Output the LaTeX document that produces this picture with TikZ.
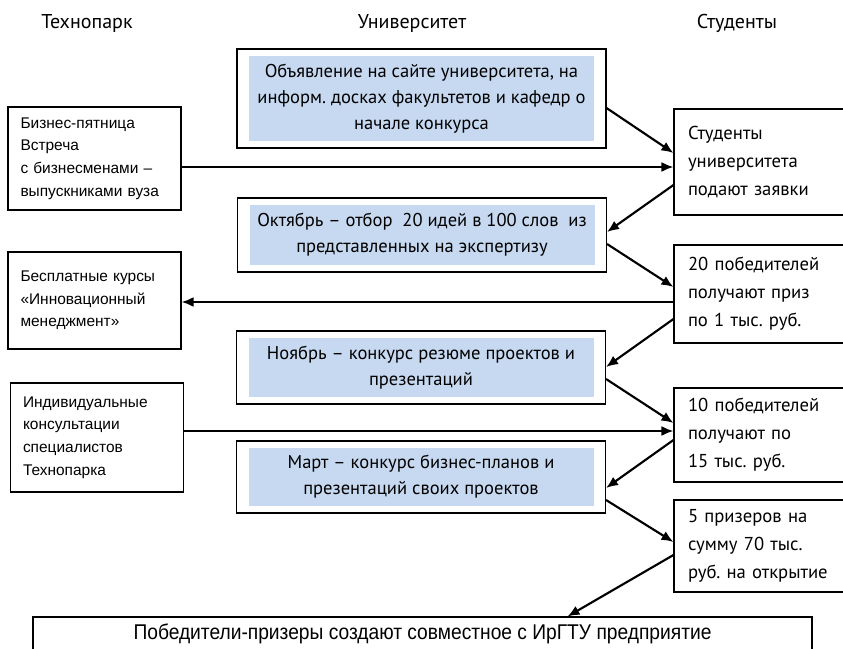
\documentclass[tikz,border=0pt]{standalone}
\usepackage{fontspec}
\setmainfont{PT Sans}
\newfontfamily\arialfont{Liberation Sans}
\newfontfamily\arialnarrow[FakeStretch=0.9]{Liberation Sans}
\usepackage{tikz}
\usetikzlibrary{arrows.meta}
\usetikzlibrary{calc}
\frenchspacing
\definecolor{uniblue}{HTML}{C6D9F0}
\newcommand{\headfont}{\fontsize{15}{18}\selectfont}
\newcommand{\unifont}{\fontsize{13.9}{19.5}\selectfont}
\newcommand{\stfont}{\fontsize{14}{21}\selectfont}
\newcommand{\tpfont}{\arialfont\fontsize{11.6}{17}\selectfont}
\tikzstyle{head} = [font=\headfont, anchor=base]
\tikzstyle{uni} = [draw, line width=0.8pt,
	minimum width = 276.75pt,
	align=center, font=\unifont,
	path picture={\fill[uniblue] ([shift={(9pt,-5.5pt)}]path picture bounding box.north west) rectangle ([shift={(-9pt,5.5pt)}]path picture bounding box.south east);}]
\tikzstyle{tpark} = [draw, line width=0.8pt,
	minimum width = 129.75pt,
	text width = 111pt, inner xsep=9pt,
	align=left, font=\tpfont]
\tikzstyle{stud} = [draw, line width=0.8pt,
	minimum width = 133.5pt,
	text width = 112.5pt, inner xsep=10.5pt,
	align=left, font=\stfont]
\tikzstyle{arrow} =[-{Latex[length=9pt, width=7.5pt]}, line width=1.6pt]

\begin{document}
\begin{tikzpicture}[x=0.75pt, y=-0.75pt]
	\useasboundingbox (0,0) rectangle (843,649);
	\clip (0,0) rectangle (843,649);
	
	\node (tp) [head] at (87,28.5) {Технопарк};
	\node (un) [head] at (412,28.5) {Университет};
	\node (st) [head] at (737,28.5) {Студенты};
	
	%университет
	\node (u1) [uni, minimum height=74.25pt] at (421.5,98.5) {Объявление на сайте университета, на\\информ. досках факультетов и кафедр о\\начале конкурса};
	\node (u2) [uni, minimum height=55.5pt] at (422,235) {Октябрь – отбор\ \ 20 идей в 100 слов\ \ из\\представленных на экспертизу};
	\node (u3) [uni, minimum height=54.75pt] at (421,367.5) {Ноябрь – конкурс резюме проектов и\\презентаций};
	\node (u4) [uni, minimum height=54pt] at (421,477) {Март – конкурс бизнес-планов и\\презентаций своих проектов};
	
	%технопарк
	\node (t1) [tpark, minimum height=77.25pt] at (94.5,158.5) {Бизнес-пятница\\Встреча\\с бизнесменами –\\выпускниками вуза};
	\node (t2) [tpark, minimum height=72.75pt] at (94.5,300.5) {Бесплатные курсы\\«Инновационный\\менеджмент»};
	\node (t3) [tpark, minimum height=81.75pt] at (97,437.5) {Индивидуальные\\консультации\\специалистов\\Технопарка};
	
	%студенты
	\node (s1) [stud, minimum height=79.5pt] at (763,162) {Студенты\\университета\\подают заявки};
	\node (s2) [stud, minimum height=73.5pt] at (763,294) {20 победителей\\получают приз\\по 1 тыс. руб.};
	\node (s3) [stud, minimum height=70.5pt] at (763,435) {10 победителей\\получают по\\15 тыс. руб.};
	\node (s4) [stud, minimum height=69pt] at (763,546) {5 призеров на\\сумму 70 тыс.\\руб. на открытие};
	
	\node (win) [draw, line width=0.8pt, minimum width=584.25pt, minimum height=24.75pt, font=\arialnarrow\fontsize{16}{19}\selectfont] at (422.5,633.5) {Победители-призеры создают совместное с ИрГТУ предприятие};
	
	%связи
	\draw [arrow] ($(u1.east)+(0,9.5)$) -- ($(s1.west)+(0,-9)$);
	\draw [arrow] ($(t1.east)+(0,8.5)$) -- ($(s1.west)+(0,5)$);
	\draw [arrow] ($(s1.west)+(0,23)$) -- ($(u2.east)+(0,-3)$);
	\draw [arrow] ($(u2.east)+(0,9)$) -- ($(s2.west)+(0,-7)$);
	\draw [arrow] ($(s2.west)+(0,8)$) -- ($(t2.east)+(0,1.5)$);
	\draw [arrow] ($(s2.west)+(0,25)$) -- ($(u3.east)+(0,-0.5)$);
	\draw [arrow] ($(u3.east)+(0,11.5)$) -- ($(s3.west)+(0,-12)$);
	\draw [arrow] ($(t3.east)+(0,-6.5)$) -- ($(s3.west)+(0,-4)$);
	\draw [arrow] ($(s3.west)+(0,5)$) -- ($(u4.east)+(0,11)$);
	\draw [arrow] ($(u4.east)+(0,23)$) -- ($(s4.west)+(0,-4)$);
	\draw [arrow] ($(s4.west)+(0,9)$) -- ($(win.north)+(145,0)$);
\end{tikzpicture}
\end{document}
